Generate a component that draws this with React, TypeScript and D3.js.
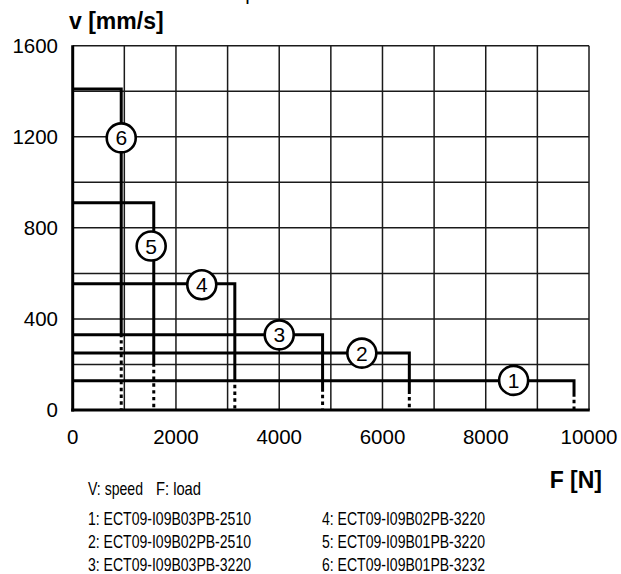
import React from 'react';
import * as d3 from 'd3';

// curve data: index 0 = curve 1 ... index 5 = curve 6
const SPEEDS = [128, 250, 330, 555, 910, 1410]; // mm/s, top of each step
const MAX_LOADS = [9710, 6520, 4840, 3140, 1570, 940]; // N, where the step drops
const SOLID_END = [58, 70, 80, 124, 190, 320]; // mm/s, where the drop turns dotted
const MARK_LOADS = [8540, 5600, 4000, 2500, 1520, 940];
const MARK_SPEEDS = [130, 250, 330, 550, 720, 1195];

const X_TICKS = [0, 2000, 4000, 6000, 8000, 10000];
const Y_TICKS = [0, 400, 800, 1200, 1600];
const X_GRID = d3.range(1000, 10001, 1000);
const Y_GRID = d3.range(200, 1601, 200);

const MODELS = [
  'ECT09-I09B03PB-2510',
  'ECT09-I09B02PB-2510',
  'ECT09-I09B03PB-3220',
  'ECT09-I09B02PB-3220',
  'ECT09-I09B01PB-3220',
  'ECT09-I09B01PB-3232',
];

const W = 621;
const H = 574;
const SANS = '"Liberation Sans", Arial, Helvetica, sans-serif';
const NARROW = '"Liberation Sans Narrow", "Arial Narrow", "Liberation Sans", sans-serif';

export default function App() {
  const x = d3.scaleLinear().domain([0, 10000]).range([72.7, 589]);
  const y = d3.scaleLinear().domain([0, 1600]).range([410, 45.7]);

  return (
    <svg
      width={W}
      height={H}
      viewBox={`0 0 ${W} ${H}`}
      style={{ position: 'absolute', left: 0, top: 0, background: '#fff' }}
    >
      {/* title above, cut off by the frame */}
      <text x={232} y={0} fontFamily={SANS} fontSize={20} fill="#000">Speed</text>

      <text x={69} y={29} fontFamily={SANS} fontSize={23} fontWeight="bold" fill="#000">
        v [mm/s]
      </text>

      {/* grid */}
      <g stroke="#1a1a1a" strokeWidth={1.5}>
        {X_GRID.map(d => (
          <line key={'gx' + d} x1={x(d)} x2={x(d)} y1={y(0)} y2={y(1600)} />
        ))}
        {Y_GRID.map(d => (
          <line key={'gy' + d} x1={x(0)} x2={x(10000)} y1={y(d)} y2={y(d)} />
        ))}
      </g>

      {/* axes */}
      <g stroke="#000" strokeWidth={3}>
        <line x1={x(0)} x2={x(0)} y1={y(0) + 1.5} y2={y(1600) - 0.5} />
        <line x1={x(0) - 1.5} x2={x(10000) + 0.75} y1={y(0)} y2={y(0)} />
      </g>

      {/* tick labels */}
      {Y_TICKS.map(d => (
        <text
          key={'ty' + d}
          x={58}
          y={y(d)}
          dy="0.36em"
          textAnchor="end"
          fontFamily={SANS}
          fontSize={20.5}
          fill="#000"
        >
          {d}
        </text>
      ))}
      {X_TICKS.map(d => (
        <text
          key={'tx' + d}
          x={x(d)}
          y={444}
          textAnchor="middle"
          fontFamily={SANS}
          fontSize={20.5}
          fill="#000"
        >
          {d}
        </text>
      ))}

      {/* step curves */}
      {SPEEDS.map((v, i) => {
        const solid = d3.path();
        solid.moveTo(x(0), y(v));
        solid.lineTo(x(MAX_LOADS[i]), y(v));
        solid.lineTo(x(MAX_LOADS[i]), y(SOLID_END[i]));
        return (
          <g key={'c' + i} fill="none" stroke="#000" strokeWidth={3}>
            <path d={solid.toString()} strokeLinejoin="miter" />
            <line
              x1={x(MAX_LOADS[i])}
              x2={x(MAX_LOADS[i])}
              y1={y(SOLID_END[i]) + 3}
              y2={y(0)}
              strokeDasharray="3.4 3.4"
            />
          </g>
        );
      })}

      {/* curve numbers */}
      {MARK_LOADS.map((f, i) => (
        <g key={'m' + i} transform={`translate(${x(f)},${y(MARK_SPEEDS[i])})`}>
          <circle r={14.5} fill="#fff" stroke="#000" strokeWidth={2.6} />
          <text
            dy="0.36em"
            textAnchor="middle"
            fontFamily={SANS}
            fontSize={21}
            fill="#000"
          >
            {i + 1}
          </text>
        </g>
      ))}

      <text x={602} y={488} textAnchor="end" fontFamily={SANS} fontSize={23} fontWeight="bold" fill="#000">
        F [N]
      </text>

      {/* legend */}
      <g fontFamily={NARROW} fontSize={18.5} fill="#000">
        <text x={88} y={495} textLength={55} lengthAdjust="spacingAndGlyphs">V: speed</text>
        <text x={156} y={495} textLength={45} lengthAdjust="spacingAndGlyphs">F: load</text>
        {MODELS.map((m, i) => (
          <text
            key={'l' + i}
            x={i < 3 ? 88 : 322}
            y={525 + (i % 3) * 23}
            textLength={163}
            lengthAdjust="spacingAndGlyphs"
          >
            {`${i + 1}: ${m}`}
          </text>
        ))}
      </g>
    </svg>
  );
}
